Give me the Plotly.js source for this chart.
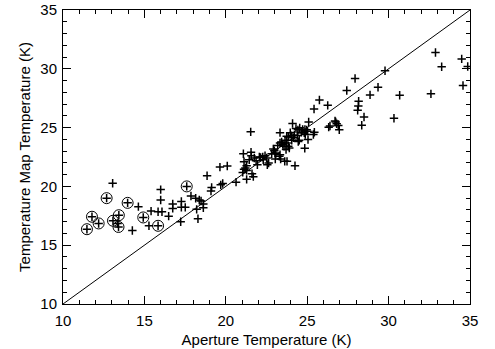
<!DOCTYPE html>
<html>
<head>
<meta charset="utf-8">
<script src="https://cdn.plot.ly/plotly-3.0.1.min.js"></script>
<style>html,body{margin:0;padding:0;background:#fff;}#chart{width:495px;height:349px;}</style>
</head>
<body>
<div id="chart"></div>
<script>
// Aperture temperature (K) vs temperature map temperature (K)
const apertureT = [
  11.47, 11.78, 12.19, 12.68, 13.05, 13.07, 13.43, 13.41, 13.35, 13.97,
  14.26, 14.63, 14.93, 15.28, 15.41, 15.84, 15.84, 16.08, 16.00, 16.00,
  16.49, 16.74, 16.74, 17.23, 17.27, 17.27, 17.51, 17.60, 17.86, 18.15,
  18.21, 18.29, 18.37, 18.48, 18.62, 18.62, 18.85, 19.09, 19.13, 19.64,
  19.69, 19.81, 20.09, 20.63,
  21.04, 21.08, 21.12, 21.12, 21.20, 21.28, 21.28, 21.28, 21.44, 21.53,
  21.55, 21.57, 21.61, 21.69, 21.75, 21.86, 21.94, 22.06, 22.14, 22.27,
  22.30, 22.41, 22.51, 22.55, 22.63, 22.82, 22.92, 22.98, 23.02, 23.04,
  23.07, 23.19, 23.29, 23.33, 23.33, 23.33, 23.37, 23.43, 23.50, 23.58,
  23.62, 23.64, 23.70, 23.74, 23.74, 23.76, 23.84, 23.84, 23.90, 23.96,
  24.05, 24.05, 24.10, 24.15, 24.21, 24.25, 24.31, 24.39, 24.43, 24.45,
  24.51, 24.54, 24.64, 24.72, 24.82, 24.85, 24.86, 24.88, 24.97, 25.01,
  25.05, 25.09, 25.38, 25.42, 25.44, 25.75, 26.26, 26.32, 26.40, 26.71,
  26.75, 26.81, 26.91, 26.97, 27.43, 27.94, 28.10, 28.14, 28.16, 28.35,
  28.49, 28.86, 29.35, 29.78, 30.33, 30.68, 32.60, 32.88, 33.26, 34.49,
  34.86, 34.57
];
const mapT = [
  16.36, 17.42, 16.85, 19.00, 20.27, 17.08, 17.55, 16.55, 16.85, 18.60,
  16.25, 18.28, 17.36, 16.65, 17.90, 16.65, 17.85, 17.85, 19.73, 18.84,
  17.47, 18.50, 18.13, 17.00, 18.71, 18.22, 18.22, 20.00, 19.19, 18.99,
  18.05, 17.25, 18.84, 18.76, 18.50, 18.19, 20.90, 19.61, 19.91, 21.64,
  20.13, 20.25, 21.73, 20.36,
  21.19, 22.78, 22.10, 21.45, 21.56, 21.36, 20.60, 21.76, 22.27, 24.64,
  22.90, 22.61, 21.07, 20.83, 22.41, 22.18, 21.84, 22.50, 22.47, 22.50,
  22.27, 22.61, 22.41, 21.84, 21.99, 22.78, 23.18, 23.04, 22.84, 22.33,
  22.78, 23.47, 22.56, 23.70, 22.70, 24.57, 22.33, 23.78, 23.55, 23.42,
  22.13, 23.93, 23.13, 24.27, 23.70, 22.13, 24.21, 23.42, 23.27, 24.57,
  24.32, 23.93, 25.35, 24.13, 24.36, 21.75, 24.92, 24.32, 24.81, 23.81,
  23.93, 24.98, 24.61, 24.84, 24.55, 23.25, 24.84, 24.41, 24.81, 24.70,
  23.98, 25.47, 24.41, 26.58, 24.61, 27.35, 26.89, 25.04, 25.13, 25.56,
  25.47, 25.33, 25.18, 24.81, 28.15, 29.18, 26.47, 26.84, 27.24, 25.20,
  25.90, 27.78, 28.43, 29.84, 25.80, 27.75, 27.87, 31.38, 30.18, 30.84,
  30.20, 28.58
];
// Circled sources
const circledAperture = [11.47, 11.78, 12.19, 12.68, 13.07, 13.43, 13.41, 13.97, 14.93, 15.84, 17.60];
const circledMap      = [16.36, 17.42, 16.85, 19.00, 17.08, 17.55, 16.55, 18.60, 17.36, 16.65, 20.00];
// one-to-one line
const lineX = [10, 35];
const lineY = [10, 35];

const axisCommon = {
  range: [10, 35],
  dtick: 5,
  tick0: 10,
  ticks: 'inside',
  ticklen: 8,
  tickwidth: 1,
  tickcolor: '#000',
  showline: true,
  linecolor: '#000',
  linewidth: 1,
  mirror: 'ticks',
  showgrid: false,
  zeroline: false,
  tickfont: {family: 'Liberation Sans, Arial, sans-serif', size: 15, color: '#000'},
  minor: {dtick: 1, tick0: 10, ticks: 'inside', ticklen: 4, tickwidth: 1, tickcolor: '#000', showgrid: false}
};

const data = [
  {x: lineX, y: lineY, mode: 'lines', type: 'scatter', line: {color: '#000', width: 1}, hoverinfo: 'skip'},
  {x: apertureT, y: mapT, mode: 'markers', type: 'scatter',
   marker: {symbol: 'cross-thin-open', size: 6, color: '#000', line: {color: '#000', width: 1.5}}},
  {x: circledAperture, y: circledMap, mode: 'markers', type: 'scatter',
   marker: {symbol: 'circle-open', size: 11, color: '#000', line: {color: '#000', width: 1}}}
];

const layout = {
  width: 495, height: 349,
  margin: {l: 63, r: 25, t: 10, b: 45},
  paper_bgcolor: '#fff', plot_bgcolor: '#fff',
  showlegend: false,
  font: {family: 'Liberation Sans, Arial, sans-serif', color: '#000'},
  xaxis: Object.assign({}, axisCommon, {
    ticklabelstandoff: 3,
    title: {text: 'Aperture Temperature (K)', font: {size: 15, color: '#000'}, standoff: 6}
  }),
  yaxis: Object.assign({}, axisCommon, {
    ticklabelstandoff: 2,
    title: {text: 'Temperature Map Temperature (K)', font: {size: 15, color: '#000'}, standoff: 6}
  })
};

Plotly.newPlot('chart', data, layout, {staticPlot: true, displayModeBar: false});
</script>
</body>
</html>
